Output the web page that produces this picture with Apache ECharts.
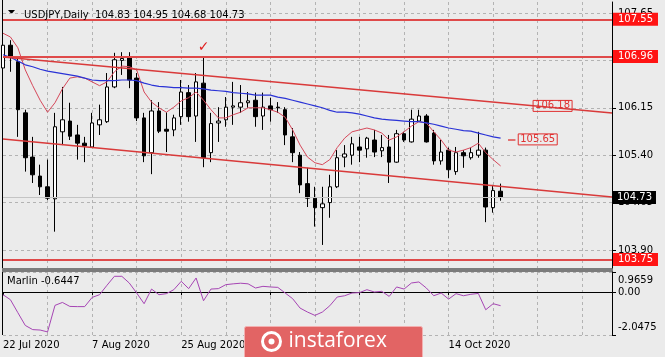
<!DOCTYPE html>
<html><head><meta charset="utf-8">
<script src="https://cdn.jsdelivr.net/npm/echarts@6/dist/echarts.min.js"></script>
<style>html,body{margin:0;padding:0;background:#ebebeb}#c{width:665px;height:357px}</style>
</head><body><div id="c"></div>
<script>
const symbolName = 'USDJPY,Daily';
const dates = ['22 Jul 2020','23 Jul 2020','24 Jul 2020','27 Jul 2020','28 Jul 2020','29 Jul 2020','30 Jul 2020','31 Jul 2020',
'3 Aug 2020','4 Aug 2020','5 Aug 2020','6 Aug 2020','7 Aug 2020','10 Aug 2020','11 Aug 2020','12 Aug 2020','13 Aug 2020','14 Aug 2020',
'17 Aug 2020','18 Aug 2020','19 Aug 2020','20 Aug 2020','21 Aug 2020','24 Aug 2020','25 Aug 2020','26 Aug 2020','27 Aug 2020','28 Aug 2020','31 Aug 2020',
'1 Sep 2020','2 Sep 2020','3 Sep 2020','4 Sep 2020','7 Sep 2020','8 Sep 2020','9 Sep 2020','10 Sep 2020','11 Sep 2020','14 Sep 2020','15 Sep 2020',
'16 Sep 2020','17 Sep 2020','18 Sep 2020','21 Sep 2020','22 Sep 2020','23 Sep 2020','24 Sep 2020','25 Sep 2020','28 Sep 2020','29 Sep 2020','30 Sep 2020',
'1 Oct 2020','2 Oct 2020','5 Oct 2020','6 Oct 2020','7 Oct 2020','8 Oct 2020','9 Oct 2020','12 Oct 2020','13 Oct 2020','14 Oct 2020',
'15 Oct 2020','16 Oct 2020','19 Oct 2020','20 Oct 2020','21 Oct 2020','22 Oct 2020','23 Oct 2020'];
const opens  = [106.78,107.14,106.88,106.07,105.37,105.07,104.90,104.71,105.77,105.94,105.72,105.59,105.53,105.88,105.93,106.48,106.90,106.94,106.62,105.99,
105.44,106.10,105.81,105.80,106.01,106.39,106.02,106.54,105.44,105.91,105.96,106.16,106.16,106.23,106.27,106.02,106.18,106.16,106.12,105.69,
105.40,104.95,104.72,104.57,104.65,104.90,105.37,105.40,105.53,105.50,105.64,105.47,105.53,105.29,105.74,105.61,105.94,106.02,105.75,105.31,
105.48,105.14,105.44,105.36,105.40,105.48,104.57,104.83];
const highs  = [107.26,107.22,106.94,106.12,105.69,105.25,105.33,106.07,106.48,106.23,105.88,105.69,106.07,106.20,106.70,107.02,107.03,107.03,106.70,106.07,
106.27,106.24,106.08,106.04,106.59,106.51,106.70,106.95,106.07,106.16,106.32,106.56,106.51,106.40,106.39,106.39,106.31,106.24,106.16,105.83,
105.45,105.20,104.90,104.90,105.09,105.48,105.56,105.69,105.69,105.69,105.80,105.72,105.72,105.80,105.77,106.12,106.12,106.05,105.80,105.64,
105.52,105.53,105.48,105.52,105.77,105.52,104.93,104.95];
const lows   = [106.72,106.72,105.69,105.14,104.96,104.77,104.69,104.19,105.56,105.64,105.33,105.29,105.52,105.72,105.91,106.46,106.67,106.46,105.94,105.29,
105.10,105.75,105.45,105.70,105.88,105.93,105.61,105.21,105.29,105.61,105.85,105.88,106.07,106.15,105.85,105.80,105.93,106.07,105.56,105.29,
104.80,104.58,104.27,103.98,104.41,104.88,105.21,105.25,105.29,105.36,105.37,105.37,104.96,105.28,105.61,105.60,105.93,105.60,105.25,105.25,
105.04,105.09,105.20,105.33,105.36,104.34,104.49,104.68];
const closes = [107.14,106.95,106.12,105.36,105.09,104.90,104.72,105.85,105.96,105.70,105.59,105.55,105.91,105.96,106.48,106.91,106.93,106.59,105.99,105.39,
106.10,105.78,105.78,105.99,106.40,106.01,106.56,105.36,105.90,105.94,106.16,106.18,106.23,106.26,106.01,106.16,106.12,106.15,105.72,105.44,
104.93,104.72,104.57,104.63,104.90,105.36,105.42,105.58,105.48,105.67,105.45,105.52,105.29,105.74,105.64,105.97,106.02,105.61,105.31,105.45,
105.17,105.44,105.39,105.44,105.48,104.58,104.84,104.73];
const maFast = [107.33,107.27,107.10,106.75,106.50,106.27,106.08,106.23,106.45,106.62,106.64,106.62,106.56,106.50,106.56,106.72,106.81,106.80,106.75,106.40,
106.24,106.15,106.08,106.16,106.26,106.31,106.40,106.27,106.12,105.99,105.99,106.04,106.08,106.15,106.15,106.15,106.12,106.08,106.00,105.80,
105.56,105.37,105.28,105.25,105.33,105.52,105.67,105.77,105.80,105.83,105.80,105.75,105.64,105.69,105.77,105.86,105.93,105.91,105.77,105.64,
105.48,105.45,105.48,105.52,105.59,105.44,105.33,105.23];
const maSlow = [106.99,106.95,106.89,106.83,106.80,106.76,106.73,106.71,106.69,106.67,106.65,106.62,106.59,106.58,106.58,106.58,106.59,106.59,106.58,106.54,
106.51,106.49,106.48,106.47,106.47,106.46,106.46,106.45,106.43,106.42,106.41,106.39,106.38,106.37,106.35,106.35,106.35,106.32,106.30,106.27,
106.24,106.21,106.18,106.15,106.11,106.08,106.08,106.07,106.05,106.02,105.99,105.97,105.96,105.95,105.94,105.93,105.93,105.91,105.89,105.86,
105.83,105.81,105.79,105.78,105.75,105.72,105.69,105.67];
const marlin = [-0.12,-0.36,-0.98,-1.59,-1.79,-1.81,-1.90,-0.63,-0.49,-0.68,-0.69,-0.69,-0.25,-0.12,0.33,0.76,0.76,0.44,-0.04,-0.55,
0.15,-0.12,-0.07,0.12,0.52,0.17,0.68,-0.41,0.15,0.17,0.36,0.40,0.43,0.40,0.20,0.28,0.25,0.23,-0.04,-0.31,
-0.76,-0.95,-1.11,-0.95,-0.65,-0.23,-0.17,-0.04,-0.02,0.12,0.01,0.04,-0.20,0.25,0.15,0.44,0.49,0.20,-0.17,-0.04,
-0.33,-0.07,-0.17,-0.10,-0.06,-0.84,-0.55,-0.6447];
const priceTicks = [103.90,104.65,105.40,106.15,106.90,107.65];
const priceMin = 103.615, priceMax = 107.824;
const marlinTicks = [-2.0475, 0, 0.9659];
const levels = [107.55, 106.96, 103.75];
const lastPrice = 104.73;
const upperTrend = [[0,106.954],[82,106.068]];
const lowerTrend = [[0,105.657],[82,104.74]];
const tagUpper = [74, 106.18];
const tagLower = [72, 105.65];
const checkMark = [27, 107.11];
const futureSlots = 15;

const FONT = 'DejaVu Sans';
const cats = dates.concat(Array.from({length: futureSlots}, (_, i) => '_' + i));
const labelIdx = i => i % 12 === 0 && i < dates.length && i <= 60;
const candleData = opens.map((o, i) => [o, closes[i], lows[i], highs[i]]);
const RED = '#df4a4a';

const chart = echarts.init(document.getElementById('c'), null, {renderer: 'canvas'});
const last = opens.length - 1;
const vSplit = {show: true, interval: i => i % 6 === 0 && i > 0, lineStyle: {color: '#b3b3b3', type: [3, 3], width: 1}};

chart.setOption({
  animation: false,
  backgroundColor: '#ebebeb',
  textStyle: {fontFamily: FONT},
  title: {
    text: symbolName + '  ' + [opens[last], highs[last], lows[last], closes[last]].map(v => v.toFixed(2)).join(' '),
    left: 19, top: 5,
    textStyle: {fontSize: 10, fontWeight: 'normal', fontFamily: FONT, color: '#000'}
  },
  grid: [
    {left: 3, right: 53, top: 2, height: 266, show: false},
    {left: 3, right: 53, top: 272, height: 63, show: false}
  ],
  xAxis: [
    {type: 'category', gridIndex: 0, data: cats, boundaryGap: false,
     axisLine: {show: false}, axisTick: {show: false}, axisLabel: {show: false}, splitLine: vSplit},
    {type: 'category', gridIndex: 1, data: cats, boundaryGap: false,
     axisLine: {show: true, lineStyle: {color: '#000', width: 1}},
     axisTick: {show: true, interval: labelIdx, length: 3, lineStyle: {color: '#000'}},
     axisLabel: {show: true, interval: labelIdx, formatter: v => v.startsWith('_') ? '' : v,
                 color: '#000', fontSize: 10, fontFamily: FONT, align: 'left', margin: 5},
     splitLine: vSplit}
  ],
  yAxis: [
    {type: 'value', gridIndex: 0, position: 'right', min: priceMin, max: priceMax,
     axisLine: {show: true, lineStyle: {color: '#000', width: 1}},
     axisTick: {show: true, customValues: priceTicks, length: 4, lineStyle: {color: '#000'}},
     axisLabel: {customValues: priceTicks, formatter: v => v.toFixed(2), color: '#000', fontSize: 10, fontFamily: FONT, margin: 6},
     splitLine: {show: true, customValues: priceTicks, lineStyle: {color: '#b3b3b3', type: [3, 3]}}},
    {type: 'value', gridIndex: 1, position: 'right', min: marlinTicks[0], max: marlinTicks[2],
     axisLine: {show: true, lineStyle: {color: '#000', width: 1}},
     axisTick: {show: true, customValues: marlinTicks, length: 4, lineStyle: {color: '#000'}},
     axisLabel: {customValues: marlinTicks, color: '#000', fontSize: 10, fontFamily: FONT, margin: 6,
       formatter: v => v === marlinTicks[2] ? '{t|' + v.toFixed(4) + '}' : (v === marlinTicks[0] ? '{b|' + v.toFixed(4) + '}' : v.toFixed(2)),
       rich: {t: {padding: [16, 0, 0, 0], fontSize: 10, color: '#000'}, b: {padding: [0, 0, 16, 0], fontSize: 10, color: '#000'}}},
     splitLine: {show: true, customValues: [0], lineStyle: {color: '#b3b3b3', type: [3, 3]}}}
  ],
  series: [
    {type: 'candlestick', xAxisIndex: 0, yAxisIndex: 0, data: candleData, barWidth: 4,
     itemStyle: {color: '#ffffff', color0: '#000000', borderColor: '#000', borderColor0: '#000', borderColorDoji: '#000', borderWidth: 1},
     markLine: {
       symbol: 'none', silent: true, animation: false, label: {show: false},
       data: [
         ...levels.map(v => ({yAxis: v, lineStyle: {color: RED, width: 2, type: 'solid'},
            label: {show: true, position: 'end', distance: 1, formatter: v.toFixed(2), color: '#fff', backgroundColor: '#ff1414',
                    padding: [2, 5, 1, 5], fontSize: 10, fontFamily: FONT}})),
         {yAxis: lastPrice, lineStyle: {color: '#c4c4c4', width: 1, type: 'solid'},
            label: {show: true, position: 'end', distance: 1, formatter: lastPrice.toFixed(2), color: '#fff', backgroundColor: '#000',
                    padding: [2, 4, 1, 4], fontSize: 10, fontFamily: FONT}},
         [{coord: upperTrend[0], lineStyle: {color: '#d93a3a', width: 1.5, type: 'solid'}}, {coord: upperTrend[1]}],
         [{coord: lowerTrend[0], lineStyle: {color: '#d93a3a', width: 1.5, type: 'solid'}}, {coord: lowerTrend[1]}],
         [{coord: [tagLower[0] - 4, tagLower[1]], lineStyle: {color: RED, width: 1.5, type: 'solid'}}, {coord: [tagLower[0] - 3, tagLower[1]]}]
       ]
     },
     markPoint: {
       symbol: 'circle', symbolSize: 1, itemStyle: {color: 'rgba(0,0,0,0)'}, silent: true, animation: false,
       data: [
         {coord: checkMark, label: {show: true, position: 'inside', formatter: '\u2713', color: '#e02020', fontSize: 14, fontWeight: 'bold'}},
         {coord: tagUpper, label: {show: true, position: 'inside', formatter: tagUpper[1].toFixed(2), color: '#e03030',
            borderColor: '#e03030', borderWidth: 1, padding: [1, 2, 0, 2], fontSize: 10, fontFamily: FONT}},
         {coord: tagLower, label: {show: true, position: 'inside', formatter: tagLower[1].toFixed(2), color: '#e03030',
            borderColor: '#e03030', borderWidth: 1, padding: [1, 2, 0, 2], fontSize: 10, fontFamily: FONT}}
       ]
     }
    },
    {type: 'line', xAxisIndex: 0, yAxisIndex: 0, data: maFast, symbol: 'none', lineStyle: {color: '#d6485a', width: 1}, z: 3},
    {type: 'line', xAxisIndex: 0, yAxisIndex: 0, data: maSlow, symbol: 'none', lineStyle: {color: '#2a33d6', width: 1.2}, z: 3},
    {type: 'line', xAxisIndex: 1, yAxisIndex: 1, data: marlin, symbol: 'none', lineStyle: {color: '#a645b4', width: 1}}
  ],
  graphic: [
    {type: 'polygon', shape: {points: [[8, 10], [15, 10], [11.5, 14]]}, style: {fill: '#000'}},
    {type: 'line', shape: {x1: 2.5, y1: 0, x2: 2.5, y2: 335}, style: {stroke: '#000', lineWidth: 1}},
    {type: 'rect', shape: {x: 2, y: 268, width: 611, height: 4}, style: {fill: '#7c7c7c'}},
    {type: 'text', left: 7, top: 276, style: {text: 'Marlin ' + marlin[last], fill: '#000', font: '10px "DejaVu Sans"'}},
    {type: 'group', left: 244, top: 326, z: 100, zlevel: 1, children: [
      {type: 'rect', z: 100, zlevel: 1, shape: {x: 0, y: 0, width: 178, height: 32, r: 2}, style: {fill: '#e26464', stroke: '#f3b0b0', lineWidth: 1}},
      {type: 'circle', z: 101, zlevel: 1, shape: {cx: 27, cy: 15, r: 9}, style: {fill: 'none', stroke: '#fff', lineWidth: 3}},
      {type: 'circle', z: 101, zlevel: 1, shape: {cx: 27, cy: 15, r: 3}, style: {fill: '#fff'}},
      {type: 'text', z: 101, zlevel: 1, x: 44, y: 15, style: {text: 'instaforex', fill: '#fff', font: '21px "Open Sans"', verticalAlign: 'middle'}}
    ]}
  ]
});
</script></body></html>
